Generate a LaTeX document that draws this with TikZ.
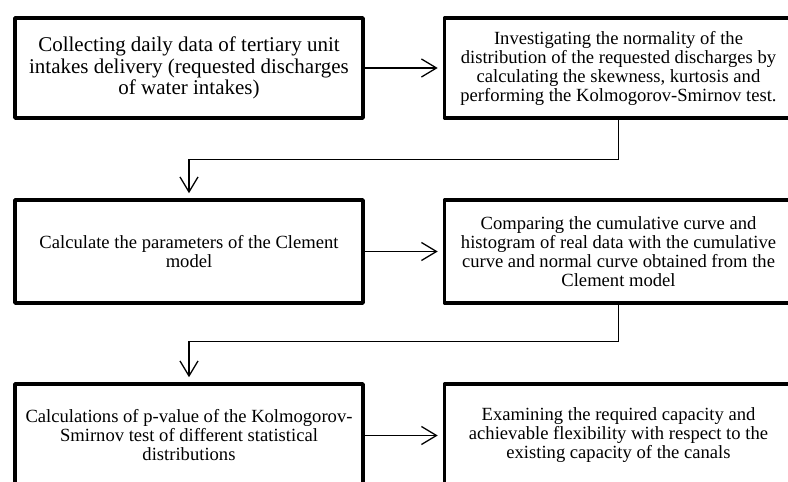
\documentclass[tikz,border=0pt]{standalone}
\usepackage{fontspec}
\setmainfont{Liberation Serif}
\usetikzlibrary{arrows.meta}
\begin{document}
\begin{tikzpicture}[x=1pt,y=-1pt]
	% size of each box
	\def\bw{348pt}
	\def\bh{101pt}
	\def\lx{189}
	\def\rx{618.5}
	% node style definition
	\tikzstyle{box} = [draw, line width=3.6pt, line join=round, rectangle, align=center, inner sep=0pt, minimum width=\bw, minimum height=\bh, font=\fontsize{18.6}{19}\selectfont];
	\tikzstyle{bigbox} = [box, font=\fontsize{21}{21.5}\selectfont];
	\tikzstyle{arr} = [line width=1.3pt, -{Straight Barb[length=15pt,width=18pt,line width=1.3pt]}, shorten >=5pt];
	\useasboundingbox (0,0) rectangle (788,482);
	% first row
	\node[bigbox, minimum height=100pt] (collect) at (\lx,68) {Collecting daily data of tertiary unit\\intakes delivery (requested discharges\\of water intakes)};
	\node[box, minimum height=100pt] (normal) at (\rx,68) {Investigating the normality of the\\distribution of the requested discharges by\\calculating the skewness, kurtosis and\\performing the Kolmogorov-Smirnov test.};
	% second row
	\node[box, minimum height=103pt] (param) at (\lx,251.5) {Calculate the parameters of the Clement\\model};
	\node[box, minimum height=103pt] (compare) at (\rx,251.5) {Comparing the cumulative curve and\\histogram of real data with the cumulative\\curve and normal curve obtained from the\\Clement model};
	% third row
	\node[box, minimum height=103pt] (pvalue) at (\lx,435.5) {Calculations of p-value of the Kolmogorov-\\Smirnov test of different statistical\\distributions};
	\node[box, minimum height=103pt] (capacity) at (\rx,435.5) {Examining the required capacity and\\achievable flexibility with respect to the\\existing capacity of the canals};
	% connectors
	\draw[arr] (collect.east) -- (normal.west);
	\draw[arr] (normal.south) -- ++(0,40) -| (param.north);
	\draw[arr] (param.east) -- (compare.west);
	\draw[arr] (compare.south) -- ++(0,37) -| (pvalue.north);
	\draw[arr] (pvalue.east) -- (capacity.west);
\end{tikzpicture}
\end{document}
